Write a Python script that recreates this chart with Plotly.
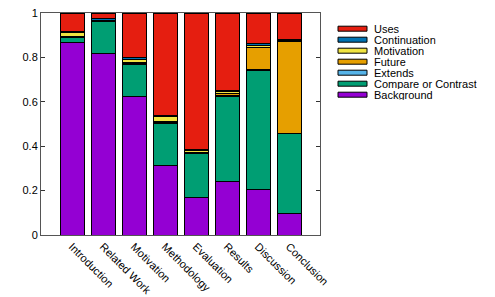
import plotly.graph_objects as go

categories = ["Introduction", "Related Work", "Motivation", "Methodology",
              "Evaluation", "Results", "Discussion", "Conclusion"]

background  = [0.866, 0.818, 0.623, 0.314, 0.170, 0.242, 0.206, 0.098]
compare     = [0.024, 0.142, 0.147, 0.190, 0.195, 0.383, 0.537, 0.357]
extends     = [0.002, 0.002, 0.002, 0.002, 0.002, 0.002, 0.002, 0.002]
future      = [0.003, 0.002, 0.005, 0.006, 0.004, 0.010, 0.100, 0.415]
motivation  = [0.018, 0.003, 0.015, 0.020, 0.010, 0.010, 0.010, 0.002]
continuation= [0.005, 0.006, 0.006, 0.005, 0.006, 0.005, 0.006, 0.006]
uses        = [0.082, 0.027, 0.202, 0.463, 0.613, 0.348, 0.139, 0.120]

series_names = ["Background", "Compare or Contrast", "Extends", "Future",
                "Motivation", "Continuation", "Uses"]
series_values = [background, compare, extends, future, motivation, continuation, uses]
series_colors = ["#9400d3", "#009e73", "#56b4e9", "#e69f00",
                 "#f0e442", "#0072b2", "#e51e10"]

y_ticks = [0, 0.2, 0.4, 0.6, 0.8, 1]
y_tick_labels = ["0", "0.2", "0.4", "0.6", "0.8", "1"]

FONT = "Liberation Sans, Arial, Helvetica, sans-serif"

fig = go.Figure()
for name, vals, col in zip(series_names, series_values, series_colors):
    fig.add_trace(go.Bar(
        x=categories, y=vals, name=name,
        marker=dict(color=col, line=dict(color="#000000", width=1)),
        width=0.774, showlegend=False,
    ))

# custom legend (gnuplot style wide swatches), top entry = last series
L, R, T, B = 41, 175, 13, 62
W, H = 495, 297
pw, ph = W - L - R, H - T - B

def px_to_paper_x(x):
    return (x - L) / pw

def px_to_paper_y(y):
    return (H - B - y) / ph

shapes = []
annotations = []
for i, (name, col) in enumerate(reversed(list(zip(series_names, series_colors)))):
    yc = 28.7 + i * 11
    shapes.append(dict(
        type="rect", xref="paper", yref="paper",
        x0=px_to_paper_x(338), x1=px_to_paper_x(367),
        y0=px_to_paper_y(yc + 2.5), y1=px_to_paper_y(yc - 2.5),
        fillcolor=col, line=dict(color="#000000", width=1),
    ))
    annotations.append(dict(
        xref="paper", yref="paper", x=px_to_paper_x(373), y=px_to_paper_y(yc),
        text=name, showarrow=False, xanchor="left", yanchor="middle",
        height=10, borderpad=0,
        font=dict(size=11, color="#000000", family=FONT),
    ))

fig.update_layout(
    template="none",
    barmode="stack",
    width=W, height=H,
    margin=dict(l=L, r=R, t=T, b=B, autoexpand=False),
    paper_bgcolor="white", plot_bgcolor="white",
    font=dict(family=FONT, size=11, color="#000000"),
    shapes=shapes, annotations=annotations,
    showlegend=False,
)
fig.update_xaxes(
    range=[-1, 8], tickangle=45, ticks="", automargin=False,
    showline=True, linecolor="#555555", linewidth=1, mirror=True,
    showgrid=False, zeroline=False, tickfont=dict(size=11, family=FONT),
)
fig.update_yaxes(
    range=[0, 1], tickvals=y_ticks, ticktext=y_tick_labels, automargin=False,
    ticks="inside", ticklen=4, tickcolor="#333333",
    showline=True, linecolor="#555555", linewidth=1, mirror="allticks",
    showgrid=False, zeroline=False, tickfont=dict(size=11, family=FONT),
)

fig.write_html("out.html", config={"displayModeBar": False},
               post_script="document.body.style.margin='0';")
